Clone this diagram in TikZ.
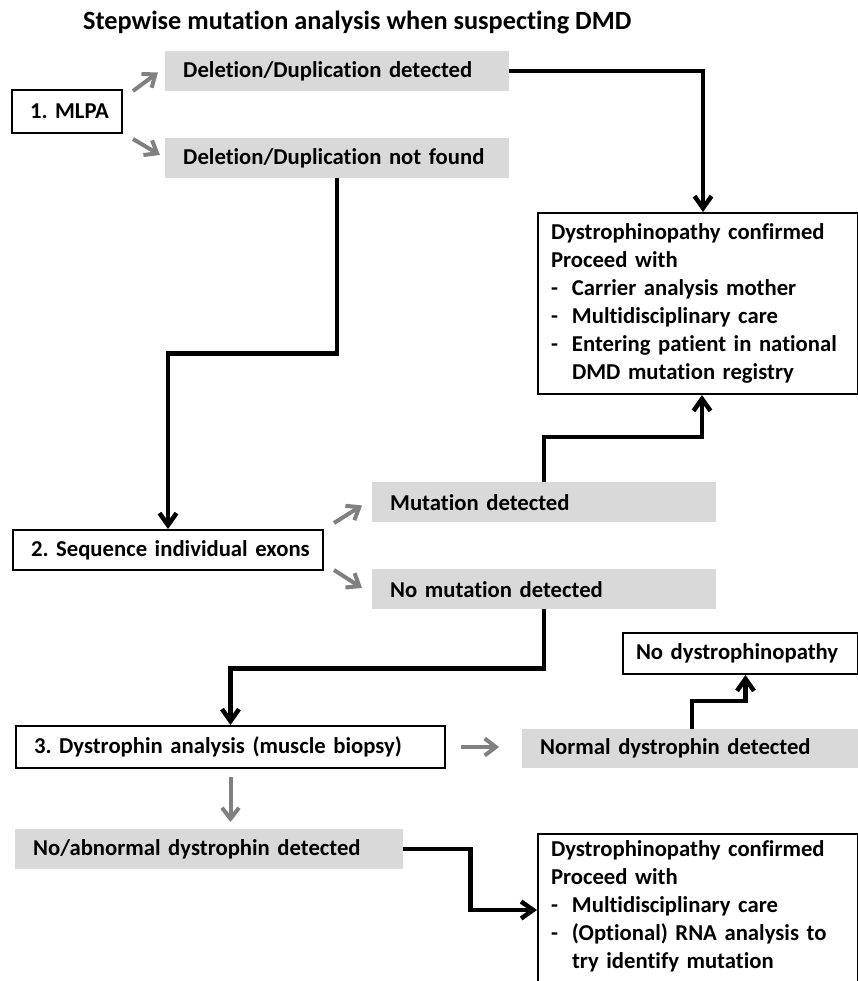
\documentclass[tikz,border=0pt]{standalone}
\usepackage{fontspec}
\setmainfont{Carlito}[Ligatures=NoCommon]
\usepackage{tikz}
\usetikzlibrary{arrows.meta,calc,positioning}
\definecolor{boxgrey}{HTML}{D9D9D9}
\definecolor{arrgrey}{HTML}{808080}

\begin{document}
\begin{tikzpicture}
  [
   x=1pt,y=-1pt,
   every node/.style={font=\fontsize{22.7}{28}\selectfont\bfseries\frenchspacing},
   wbox/.style={rectangle,draw=black,line width=2pt,fill=white,anchor=north west,inner xsep=18pt,inner ysep=0pt,align=left},
   gbox/.style={rectangle,fill=boxgrey,anchor=north west,inner xsep=18pt,inner ysep=0pt,align=left},
   flow/.style={line width=4.5pt,-{Straight Barb[length=12pt,width=17pt]}},
   garr/.style={line width=4pt,draw=arrgrey,-{Straight Barb[length=11pt,width=17pt]}}
  ]
   \useasboundingbox (0,0) rectangle (858,981);

   \node[anchor=base west,inner sep=0pt,font=\fontsize{26.3}{30}\selectfont\bfseries] (title) at (83,30) {Stepwise mutation analysis when suspecting DMD};

   \node[wbox,minimum width=110pt,minimum height=43pt,text width=74pt] (mlpa) at (11,89) {\mbox{1. MLPA}};
   \node[gbox,minimum width=344pt,minimum height=40pt,text width=308pt] (deldet) at (165,51) {\mbox{Deletion/Duplication detected}};
   \node[gbox,minimum width=344pt,minimum height=40pt,text width=308pt] (delnot) at (165,138) {\mbox{Deletion/Duplication not found}};

   \node[wbox,inner xsep=13pt,minimum width=320pt,minimum height=181pt,text width=294pt] (conf1) at (537,212)
     {\mbox{Dystrophinopathy confirmed}\\
      \mbox{Proceed with}\\
      \mbox{\makebox[21pt][l]{-}Carrier analysis mother}\\
      \mbox{\makebox[21pt][l]{-}Multidisciplinary care}\\
      \mbox{\makebox[21pt][l]{-}Entering patient in national}\\
      \mbox{\hspace*{21pt}DMD mutation registry}};

   \node[wbox,minimum width=310pt,minimum height=40pt,text width=274pt] (seq) at (12,529) {\mbox{2. Sequence individual exons}};
   \node[gbox,minimum width=344pt,minimum height=40pt,text width=308pt] (mutdet) at (372,482) {\mbox{Mutation detected}};
   \node[gbox,minimum width=344pt,minimum height=40pt,text width=308pt] (nomut) at (372,569) {\mbox{No mutation detected}};

   \node[wbox,inner xsep=13pt,minimum width=235pt,minimum height=41pt,text width=209pt] (nodys) at (622,632) {\mbox{No dystrophinopathy}};
   \node[wbox,minimum width=429pt,minimum height=42pt,text width=393pt] (dysan) at (15,725) {\mbox{3. Dystrophin analysis (muscle biopsy)}};
   \node[gbox,minimum width=340pt,minimum height=39pt,text width=304pt] (normal) at (522,729) {\mbox{Normal dystrophin detected}};
   \node[gbox,minimum width=388pt,minimum height=40pt,text width=352pt] (abn) at (15,829) {\mbox{No/abnormal dystrophin detected}};

   \node[wbox,inner xsep=13pt,inner ysep=7pt,minimum width=320pt,text width=294pt] (conf2) at (537,833)
     {\mbox{Dystrophinopathy confirmed}\\
      \mbox{Proceed with}\\
      \mbox{\makebox[21pt][l]{-}Multidisciplinary care}\\
      \mbox{\makebox[21pt][l]{-}(Optional) RNA analysis to}\\
      \mbox{\hspace*{21pt}try identify mutation}\\[-8pt]
      \mbox{}};

   % grey result arrows
   \draw[garr] ($(mlpa.north east)+(10,2)$) -- ($(deldet.south west)+(-7,-19)$);
   \draw[garr] ($(mlpa.south east)+(10,5)$) -- ($(delnot.north west)+(-5,17)$);
   \draw[garr] ($(seq.north east)+(10,-6)$) -- ($(mutdet.south west)+(-10,-17)$);
   \draw[garr] ($(seq.south east)+(10,-1)$) -- ($(nomut.north west)+(-10,19)$);
   \draw[garr] ([xshift=15pt]dysan.east) -- ([xshift=-23pt]dysan.east -| normal.west);
   \draw[garr] ([yshift=-8pt]dysan.south) -- ([yshift=7pt]dysan.south |- abn.north);

   % black flow lines
   \draw[flow] (deldet.east) -| ([xshift=5pt]conf1.north);
   \draw[flow] (delnot.south) -- ++(0,175) -| (seq.north);
   \draw[flow] (mutdet.north) -- ++(0,-45) -| ([xshift=4pt]conf1.south);
   \draw[flow] (nomut.south) -- ++(0,59) -| (dysan.north);
   \draw[flow] (normal.north) -- ++(0,-28) -| ([xshift=5pt]nodys.south);
   \draw[flow] (abn.east) -- ++(67,0) |- ([yshift=-77pt]conf2.north west);

\end{tikzpicture}
\end{document}
